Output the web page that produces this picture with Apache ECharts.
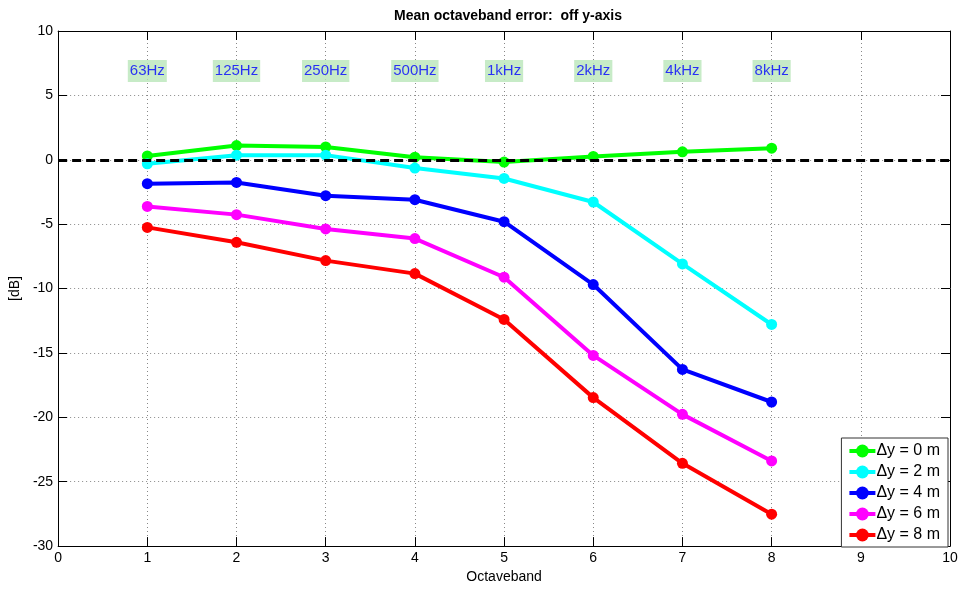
<!DOCTYPE html>
<html><head><meta charset="utf-8">
<script src="https://cdn.jsdelivr.net/npm/echarts@6/dist/echarts.min.js"></script>
<style>html,body{margin:0;padding:0;background:#fff}#c{width:961px;height:589px}</style>
</head><body><div id="c"></div>
<script>
const bands = [1, 2, 3, 4, 5, 6, 7, 8];
const bandLabels = ['63Hz', '125Hz', '250Hz', '500Hz', '1kHz', '2kHz', '4kHz', '8kHz'];
const bandLabelY = 6.9;
const seriesNames = ['\u0394y = 0 m', '\u0394y = 2 m', '\u0394y = 4 m', '\u0394y = 6 m', '\u0394y = 8 m'];
const seriesColors = ['#00ff00', '#00ffff', '#0000ff', '#ff00ff', '#ff0000'];
const dy0 = [0.3, 1.1, 1.0, 0.2, -0.18, 0.26, 0.62, 0.9];
const dy2 = [-0.31, 0.36, 0.36, -0.64, -1.45, -3.28, -8.09, -12.79];
const dy4 = [-1.86, -1.76, -2.79, -3.1, -4.81, -9.69, -16.28, -18.81];
const dy6 = [-3.62, -4.26, -5.37, -6.12, -9.12, -15.19, -19.77, -23.39];
const dy8 = [-5.25, -6.41, -7.83, -8.84, -12.4, -18.47, -23.57, -27.52];
const allData = [dy0, dy2, dy4, dy6, dy8];

const font = 'Liberation Sans, Arial, sans-serif';
const chart = echarts.init(document.getElementById('c'));

const lineSeries = allData.map((d, i) => ({
  name: seriesNames[i],
  type: 'line',
  data: bands.map((b, j) => [b, d[j]]),
  color: seriesColors[i],
  lineStyle: { width: 4, color: seriesColors[i] },
  itemStyle: { color: seriesColors[i] },
  symbol: 'circle',
  symbolSize: 11,
  z: 3 + i,
  animation: false
}));

lineSeries[0].markLine = {
  silent: true,
  symbol: 'none',
  label: { show: false },
  lineStyle: { color: '#000', type: [9, 5], width: 3 },
  data: [{ yAxis: 0 }],
  z: 10
};

const labelSeries = {
  type: 'scatter',
  name: 'bands',
  data: bands.map((b, j) => ({ value: [b, bandLabelY], name: bandLabels[j] })),
  symbolSize: 0,
  silent: true,
  z: 20,
  label: {
    show: true,
    position: 'inside',
    formatter: p => p.name,
    color: '#0000ff',
    fontFamily: font,
    fontSize: 15,
    backgroundColor: '#b9e6b9',
    padding: [4, 2, 3, 2]
  },
  animation: false
};

const axisCommon = {
  axisLine: { show: true, onZero: false, lineStyle: { color: '#000', width: 1 } },
  axisTick: { show: true, inside: true, length: 9, lineStyle: { color: '#000' } },
  axisLabel: { color: '#000', fontFamily: font, fontSize: 14 },
  splitLine: { show: false }
};

chart.setOption({
  animation: false,
  backgroundColor: '#fff',
  title: {
    text: 'Mean octaveband error:  off y-axis',
    left: 503, top: 4, textAlign: 'center',
    textStyle: { fontFamily: font, fontSize: 14, fontWeight: 'bold', color: '#000' }
  },
  grid: { left: 57, right: 11, top: 31, bottom: 42, containLabel: false },
  legend: {
    data: seriesNames,
    orient: 'vertical',
    right: 13, bottom: 42,
    backgroundColor: '#fff',
    borderColor: '#333', borderWidth: 1,
    padding: [5, 8, 4, 6],
    itemGap: 5,
    itemWidth: 26, itemHeight: 16,
    lineStyle: { width: 4 },
    textStyle: { fontFamily: font, fontSize: 16, color: '#000', padding: [0, 0, 0, -4] }
  },
  xAxis: [
    Object.assign({}, axisCommon, {
      type: 'value', min: 0, max: 10, interval: 1,
      name: 'Octaveband', nameLocation: 'middle', nameGap: 23,
      axisLabel: { color: '#000', fontFamily: font, fontSize: 14, margin: 5 },
      nameTextStyle: { fontFamily: font, fontSize: 14, color: '#000' },
      splitLine: { show: true, lineStyle: { color: '#888', type: [1, 3], width: 1 } }
    }),
    Object.assign({}, axisCommon, {
      type: 'value', min: 0, max: 10, interval: 1, position: 'top',
      axisLabel: { show: false }
    })
  ],
  yAxis: [
    Object.assign({}, axisCommon, {
      type: 'value', min: -30, max: 10, interval: 5,
      name: '[dB]', nameLocation: 'middle', nameGap: 34,
      axisLabel: { color: '#000', fontFamily: font, fontSize: 14, margin: 5 },
      nameTextStyle: { fontFamily: font, fontSize: 14, color: '#000' },
      splitLine: { show: true, lineStyle: { color: '#888', type: [1, 3], width: 1 } }
    }),
    Object.assign({}, axisCommon, {
      type: 'value', min: -30, max: 10, interval: 5, position: 'right',
      axisLabel: { show: false }
    })
  ],
  series: lineSeries.concat([labelSeries])
});
</script></body></html>
